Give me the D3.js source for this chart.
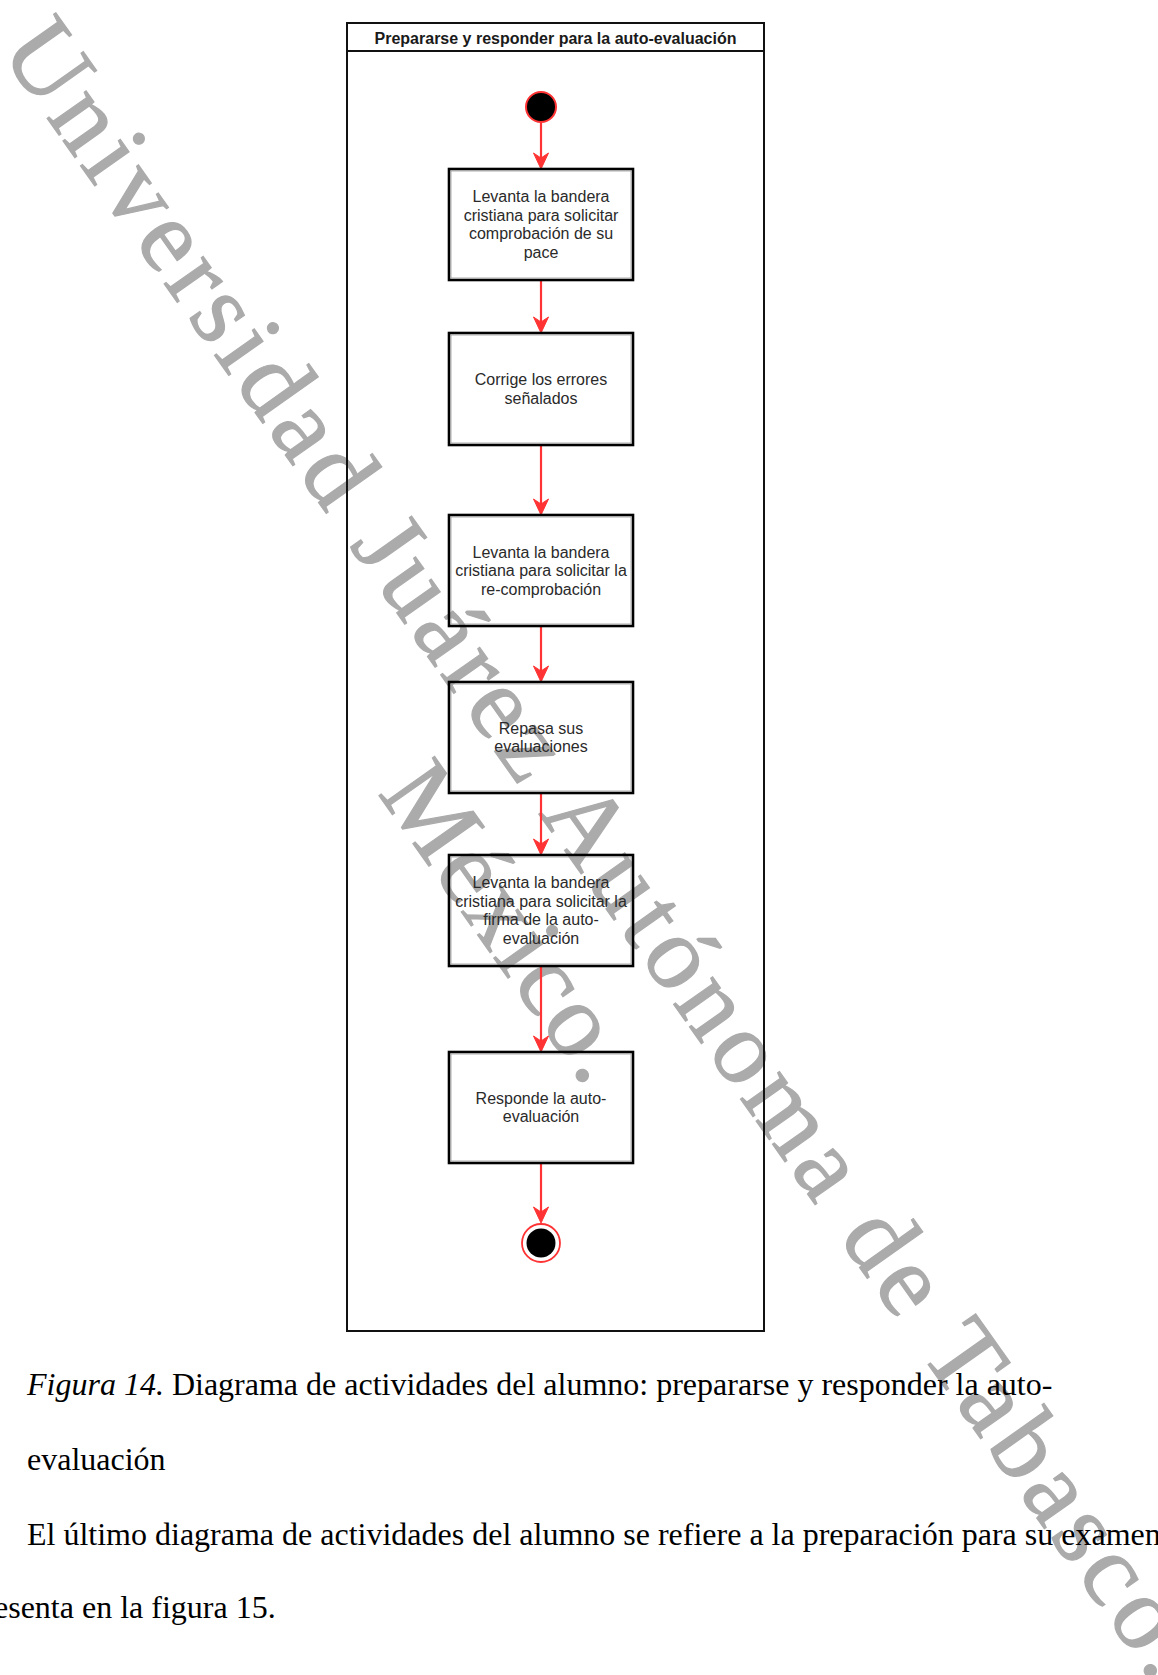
<!DOCTYPE html>
<html>
<head>
<meta charset="utf-8">
<script src="https://cdn.jsdelivr.net/npm/d3@7"></script>
<style>
  html, body { margin: 0; padding: 0; background: #fff; }
  svg { display: block; }
</style>
</head>
<body>
<div id="page"></div>
<script>
// diagram content
var title = 'Prepararse y responder para la auto-evaluación';

var steps = [
  ['Levanta la bandera', 'cristiana para solicitar', 'comprobación de su', 'pace'],
  ['Corrige los errores', 'señalados'],
  ['Levanta la bandera', 'cristiana para solicitar la', 're-comprobación'],
  ['Repasa sus', 'evaluaciones'],
  ['Levanta la bandera', 'cristiana para solicitar la', 'firma de la auto-', 'evaluación'],
  ['Responde la auto-', 'evaluación']
];

// vertical order of the flow, in diagram units from the top of the lane
var stepTop    = [146, 310, 492, 659, 832, 1029];
var stepBottom = [257, 422, 603, 770, 943, 1140];
var startNode  = 84;
var endNode    = 1220;

var captionLines = [
  { italic: 'Figura 14.', text: ' Diagrama de actividades del alumno: prepararse y responder la auto-' },
  { italic: '', text: 'evaluación' },
  { italic: '', text: 'El último diagrama de actividades del alumno se refiere a la preparación para su examen' },
  { italic: '', text: 'esenta en la figura 15.' }
];

var watermark = ['Universidad Juárez Autónoma de Tabasco.', 'México.'];

//config
var width  = 1158
  , height = 1675
  , laneX0 = 347
  , laneX1 = 764
  , midX   = 541
  , boxW   = 184
  , red    = '#ff3333'
;

var y = d3.scaleLinear().domain([0, 1308]).range([23, 1331]);

var svg = d3.select('#page').append('svg')
    .attr('width', width)
    .attr('height', height);

// watermark (behind everything)
var angle = Math.atan2(height, width) * 180 / Math.PI - 0.6;
var wm = svg.append('g')
    .attr('transform', 'translate(606,850) rotate(' + angle + ')')
    .attr('fill', '#ababab')
    .attr('stroke', '#ababab')
    .attr('stroke-width', 1.2)
    .attr('font-family', '"Liberation Serif", "Times New Roman", serif')
    .attr('font-size', 104)
    .attr('text-anchor', 'middle');

wm.selectAll('text').data(watermark).enter().append('text')
    .attr('x', function (d, i) { return i ? 4 : 0; })
    .attr('y', function (d, i) { return 34 + i * 120; })
    .attr('letter-spacing', function (d, i) { return i ? 3 : 6; })
    .text(function (d) { return d; });

// swimlane frame
var lane = svg.append('g');
lane.append('rect')
    .attr('x', laneX0).attr('y', y(0))
    .attr('width', laneX1 - laneX0).attr('height', y(1308) - y(0))
    .attr('fill', 'none').attr('stroke', '#111').attr('stroke-width', 2);
lane.append('line')
    .attr('x1', laneX0).attr('x2', laneX1)
    .attr('y1', y(28)).attr('y2', y(28))
    .attr('stroke', '#111').attr('stroke-width', 2);
lane.append('text')
    .attr('x', (laneX0 + laneX1) / 2).attr('y', y(20.5))
    .attr('text-anchor', 'middle')
    .attr('font-family', '"Liberation Sans", Arial, sans-serif')
    .attr('font-weight', 'bold')
    .attr('font-size', 16)
    .attr('fill', '#1a1a1a')
    .text(title);

// arrows: start -> step0 -> ... -> end
var startR = 15, endR = 20;
var segs = [];
segs.push([y(startNode) + startR + 1, y(stepTop[0])]);
for (var i = 0; i < steps.length - 1; i++) segs.push([y(stepBottom[i]), y(stepTop[i + 1])]);
segs.push([y(stepBottom[steps.length - 1]), y(endNode) - endR]);

var edges = svg.selectAll('g.edge').data(segs).enter().append('g').attr('class', 'edge');

edges.append('line')
    .attr('x1', midX).attr('x2', midX)
    .attr('y1', function (d) { return d[0]; })
    .attr('y2', function (d) { return d[1] - 10; })
    .attr('stroke', red)
    .attr('stroke-width', 2.2);

edges.append('path')
    .attr('d', function (d) {
      var t = d[1];
      return 'M' + midX + ',' + t +
             'L' + (midX - 7.5) + ',' + (t - 16) +
             'L' + midX + ',' + (t - 11) +
             'L' + (midX + 7.5) + ',' + (t - 16) + 'Z';
    })
    .attr('fill', red)
    .attr('stroke', red)
    .attr('stroke-width', 1);

// activity boxes
var boxes = svg.selectAll('g.step').data(steps).enter().append('g').attr('class', 'step');

boxes.append('rect')
    .attr('x', midX - boxW / 2)
    .attr('y', function (d, i) { return y(stepTop[i]); })
    .attr('width', boxW)
    .attr('height', function (d, i) { return y(stepBottom[i]) - y(stepTop[i]); })
    .attr('fill', 'none')
    .attr('stroke', '#000')
    .attr('stroke-width', 2.6);

boxes.append('rect')
    .attr('x', midX - boxW / 2 + 2)
    .attr('y', function (d, i) { return y(stepTop[i]) + 2; })
    .attr('width', boxW - 4)
    .attr('height', function (d, i) { return y(stepBottom[i]) - y(stepTop[i]) - 4; })
    .attr('fill', 'none')
    .attr('stroke', '#9a9a9a')
    .attr('stroke-width', 0.8);

boxes.append('text')
    .attr('text-anchor', 'middle')
    .attr('font-family', '"Liberation Sans", Arial, sans-serif')
    .attr('font-size', 16)
    .attr('fill', '#2a2a2a')
    .each(function (d, i) {
      var cy = (y(stepTop[i]) + y(stepBottom[i])) / 2;
      var lh = 18.5;
      var first = cy - (d.length - 1) * lh / 2 + 5.5;
      d3.select(this).selectAll('tspan').data(d).enter().append('tspan')
          .attr('x', midX)
          .attr('y', function (s, j) { return first + j * lh; })
          .text(function (s) { return s; });
    });

// start / end nodes
svg.append('circle')
    .attr('cx', midX).attr('cy', y(startNode)).attr('r', startR)
    .attr('fill', '#000').attr('stroke', red).attr('stroke-width', 2);
svg.append('circle')
    .attr('cx', midX).attr('cy', y(endNode)).attr('r', endR - 1)
    .attr('fill', '#fff').attr('stroke', red).attr('stroke-width', 1.8);
svg.append('circle')
    .attr('cx', midX).attr('cy', y(endNode)).attr('r', 14.5)
    .attr('fill', '#000');

// caption text below the figure
var cap = svg.append('g')
    .attr('font-family', '"Liberation Serif", "Times New Roman", serif')
    .attr('font-size', 32)
    .attr('fill', '#000');

var capY = [1395, 1470, 1545, 1618];
var capX = [27, 27, 27, -6];
cap.selectAll('text').data(captionLines).enter().append('text')
    .attr('x', function (d, i) { return capX[i]; })
    .attr('y', function (d, i) { return capY[i]; })
    .each(function (d) {
      var t = d3.select(this);
      if (d.italic) t.append('tspan').attr('font-style', 'italic').text(d.italic);
      t.append('tspan').text(d.text);
    });
</script>
</body>
</html>
